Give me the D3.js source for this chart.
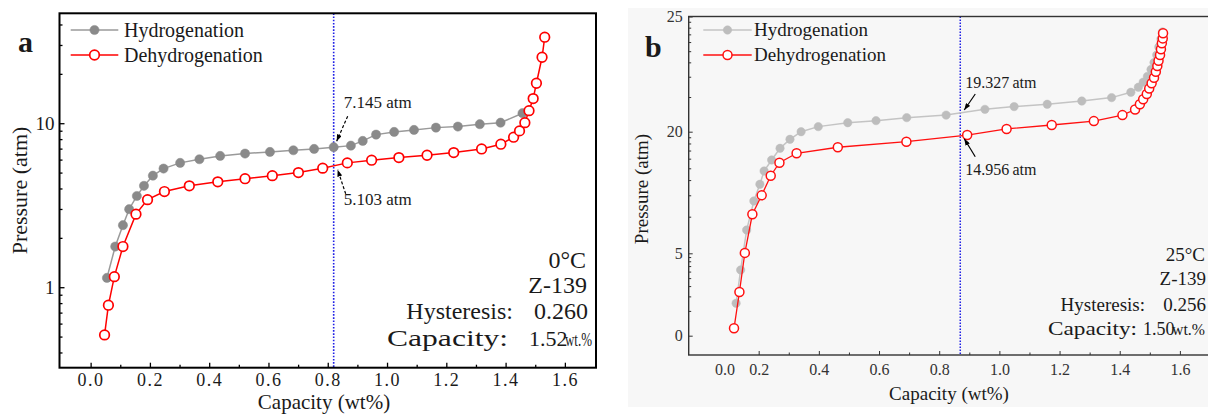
<!DOCTYPE html>
<html>
<head>
<meta charset="utf-8">
<script src="https://cdn.jsdelivr.net/npm/d3@7"></script>
<style>
  body { margin: 0; background: #fff; }
  svg { display: block; }
  svg text { font-family: "Liberation Serif", "DejaVu Serif", "Times New Roman", serif; fill: #1a1a1a; }
</style>
</head>
<body>
<svg id="chart" width="1208" height="415" font-family="Liberation Serif, DejaVu Serif, serif"></svg>
<script>
// ---------- Panel a: 0 °C (log pressure axis) ----------
const capHydA  = [0.055,0.083,0.109,0.130,0.156,0.180,0.210,0.246,0.302,0.367,0.437,0.521,0.605,0.684,0.754,0.820,0.878,0.918,0.963,1.024,1.091,1.165,1.239,1.313,1.383,1.457];
const presHydA = [1.14,1.77,2.39,2.99,3.60,4.15,4.79,5.29,5.73,6.03,6.32,6.53,6.68,6.84,6.97,7.145,7.30,7.80,8.52,8.85,9.10,9.40,9.54,9.86,10.08,11.51];
const capDehA  = [0.047,0.060,0.080,0.109,0.153,0.192,0.249,0.333,0.429,0.521,0.613,0.701,0.783,0.866,0.948,1.040,1.135,1.225,1.319,1.384,1.427,1.447,1.465,1.479,1.493,1.504,1.523,1.532];
const presDehA = [0.512,0.777,1.16,1.77,2.79,3.42,3.83,4.15,4.39,4.59,4.79,5.00,5.32,5.73,5.95,6.17,6.38,6.62,6.97,7.45,8.22,8.98,10.08,11.93,14.13,17.53,25.25,33.45];
const xTicksA = [0,0.2,0.4,0.6,0.8,1.0,1.2,1.4,1.6];
const xMinorA = [0.1,0.3,0.5,0.7,0.9,1.1,1.3,1.5];
const yTicksA = [1,10];
const yMinorA = [0.4,0.5,0.6,0.7,0.8,0.9,2,3,4,5,6,7,8,9,20,30,40];
const markCapA = 0.82, markHydA = 7.145, markDehA = 5.103;
const infoA = { temp: "0°C", sample: "Z-139", hyst: "0.260", cap: "1.52" };

// ---------- Panel b: 25 °C ----------
const capHydB  = [0.125,0.140,0.160,0.184,0.204,0.218,0.243,0.271,0.304,0.341,0.398,0.496,0.590,0.692,0.823,0.952,1.049,1.159,1.274,1.373,1.437,1.462,1.478,1.492,1.504,1.514,1.523,1.530,1.537,1.542];
const presHydB = [1.97,3.99,7.87,11.45,13.51,15.15,16.51,17.95,19.06,20.00,20.22,20.39,20.48,20.61,20.72,20.97,21.09,21.19,21.33,21.48,21.71,21.93,22.15,22.40,22.70,23.00,23.33,23.68,24.02,24.33];
const capDehB  = [0.118,0.136,0.154,0.179,0.210,0.240,0.269,0.326,0.463,0.691,0.893,1.024,1.174,1.314,1.409,1.451,1.467,1.478,1.490,1.498,1.506,1.514,1.520,1.525,1.529,1.534,1.537,1.540,1.543,1.544];
const presDehB = [0.45,2.65,5.05,9.81,12.15,14.57,16.18,17.34,18.08,18.77,19.59,20.12,20.29,20.46,20.72,20.96,21.19,21.41,21.64,21.87,22.10,22.34,22.60,22.85,23.08,23.33,23.58,23.84,24.05,24.27];
const xTicksB = [0,0.2,0.4,0.6,0.8,1.0,1.2,1.4,1.6];
const xMinorB = [0.3,0.5,0.7,0.9,1.1,1.3,1.5];
const yTicksB = [0,5,20,25];
const markCapB = 0.87, markHydB = 19.327, markDehB = 14.956;
const infoB = { temp: "25°C", sample: "Z-139", hyst: "0.256", cap: "1.50" };

const SERIF = "Liberation Serif, DejaVu Serif, serif";
const svg = d3.select("#chart");

// arrowhead
svg.append("defs").append("marker")
  .attr("id", "head").attr("viewBox", "0 0 8 6").attr("refX", 8).attr("refY", 3)
  .attr("markerWidth", 7).attr("markerHeight", 5).attr("markerUnits", "userSpaceOnUse")
  .attr("orient", "auto")
  .append("path").attr("d", "M0,0 L8,3 L0,6 Z").attr("fill", "#000");

function drawSeries(g, xs, ys, x, y, st) {
  const pts = xs.map((v, i) => [v, ys[i]]);
  g.append("path").datum(pts)
    .attr("d", d3.line().x(d => x(d[0])).y(d => y(d[1])))
    .attr("fill", "none").attr("stroke", st.line).attr("stroke-width", st.lw);
  g.selectAll(null).data(pts).join("circle")
    .attr("cx", d => x(d[0])).attr("cy", d => y(d[1])).attr("r", st.r)
    .attr("fill", st.fill).attr("stroke", st.stroke).attr("stroke-width", st.sw);
}

// screen-space y of a polyline at a given x value
function yOnCurve(xs, ys, xv, x, y) {
  for (let i = 0; i < xs.length - 1; i++) {
    if (xs[i] <= xv && xv <= xs[i + 1]) {
      const t = (x(xv) - x(xs[i])) / (x(xs[i + 1]) - x(xs[i]));
      return y(ys[i]) + t * (y(ys[i + 1]) - y(ys[i]));
    }
  }
  return y(ys[0]);
}

function legend(g, x0, y0, gap, len, textX, fs, hydSt, dehSt) {
  [[hydSt, "Hydrogenation"], [dehSt, "Dehydrogenation"]].forEach(([st, label], i) => {
    const yy = y0 + i * gap;
    g.append("line").attr("x1", x0).attr("x2", x0 + len).attr("y1", yy).attr("y2", yy)
      .attr("stroke", st.line).attr("stroke-width", st.lw);
    g.append("circle").attr("cx", x0 + len / 2).attr("cy", yy).attr("r", st.r)
      .attr("fill", st.fill).attr("stroke", st.stroke).attr("stroke-width", st.sw);
    g.append("text").attr("x", textX).attr("y", yy + fs * 0.33).attr("font-size", fs).text(label);
  });
}

// ================= Panel a =================
{
  const L = 59.5, R = 596, T = 13.3, B = 367.7;
  const x = d3.scaleLinear().domain([-0.105, 1.705]).range([L, R]);
  const y = d3.scaleLog().domain([0.323, 46.8]).range([B, T]);
  const g = svg.append("g");

  const hydSt = { line: "#9a9a9a", lw: 1.5, r: 4.6, fill: "#8a8a8a", stroke: "#8a8a8a", sw: 0.5 };
  const dehSt = { line: "#ff0000", lw: 1.5, r: 4.8, fill: "#fff", stroke: "#ff0000", sw: 1.7 };

  // axes with inward ticks
  const ax = g.append("g").attr("transform", `translate(0,${B})`)
    .call(d3.axisBottom(x).tickValues(xTicksA).tickFormat(d3.format(".1f")).tickSizeInner(-5).tickSizeOuter(0).tickPadding(6));
  ax.selectAll("text").attr("font-size", 18).attr("letter-spacing", 1.5);
  g.append("g").attr("transform", `translate(0,${B})`)
    .call(d3.axisBottom(x).tickValues(xMinorA).tickFormat("").tickSizeInner(-3).tickSizeOuter(0));
  const ay = g.append("g").attr("transform", `translate(${L},0)`)
    .call(d3.axisLeft(y).tickValues(yTicksA).tickFormat(d3.format("d")).tickSizeInner(-5).tickSizeOuter(0).tickPadding(5));
  ay.selectAll("text").attr("font-size", 19);
  g.append("g").attr("transform", `translate(${L},0)`)
    .call(d3.axisLeft(y).tickValues(yMinorA).tickFormat("").tickSizeInner(-3).tickSizeOuter(0));
  g.selectAll(".domain").remove();
  g.selectAll(".tick line").attr("stroke", "#000").attr("stroke-width", 1.3);
  g.selectAll("g").attr("font-family", SERIF);

  // vertical marker line
  g.append("line").attr("x1", x(markCapA)).attr("x2", x(markCapA)).attr("y1", T).attr("y2", B)
    .attr("stroke", "#1f1fe6").attr("stroke-width", 1.6).attr("stroke-dasharray", "1.6,1.6");

  drawSeries(g, capHydA, presHydA, x, y, hydSt);
  drawSeries(g, capDehA, presDehA, x, y, dehSt);

  // frame
  g.append("rect").attr("x", L).attr("y", T).attr("width", R - L).attr("height", B - T)
    .attr("fill", "none").attr("stroke", "#000").attr("stroke-width", 2);

  // annotations
  const xm = x(markCapA);
  const yH = y(markHydA), yD = yOnCurve(capDehA, presDehA, markCapA, x, y);
  g.append("line").attr("x1", xm + 14).attr("y1", yH - 31).attr("x2", xm + 3).attr("y2", yH - 6)
    .attr("stroke", "#000").attr("stroke-width", 1.2).attr("stroke-dasharray", "3,2").attr("marker-end", "url(#head)");
  g.append("line").attr("x1", xm + 12).attr("y1", yD + 28).attr("x2", xm + 4).attr("y2", yD + 4)
    .attr("stroke", "#000").attr("stroke-width", 1.2).attr("stroke-dasharray", "3,2").attr("marker-end", "url(#head)");
  g.append("text").attr("x", xm + 10).attr("y", yH - 39).attr("font-size", 17).text(`${markHydA} atm`);
  g.append("text").attr("x", xm + 10).attr("y", yD + 39).attr("font-size", 17).text(`${markDehA} atm`);

  legend(g, 70.7, 30, 25, 47.6, 124, 20, hydSt, dehSt);

  g.append("text").attr("x", 18).attr("y", 52).attr("font-size", 30).attr("font-weight", "bold").text("a");

  g.append("text").attr("transform", `translate(27,${(T + B) / 2}) rotate(-90)`)
    .attr("text-anchor", "middle").attr("font-size", 22).text("Pressure (atm)");
  g.append("text").attr("x", 324).attr("y", 409).attr("text-anchor", "middle")
    .attr("font-size", 21).text("Capacity (wt%)");

  // condition block
  g.append("text").attr("x", 586).attr("y", 268).attr("text-anchor", "end").attr("font-size", 24).text(infoA.temp);
  g.append("text").attr("x", 587).attr("y", 293).attr("text-anchor", "end").attr("font-size", 24).text(infoA.sample);
  g.append("text").attr("x", 513).attr("y", 319).attr("text-anchor", "end").attr("font-size", 24).text("Hysteresis:");
  g.append("text").attr("x", 588).attr("y", 319).attr("text-anchor", "end").attr("font-size", 24).text(infoA.hyst);
  g.append("text").attr("x", 387).attr("y", 346).attr("font-size", 24)
    .attr("textLength", 121).attr("lengthAdjust", "spacingAndGlyphs").text("Capacity:");
  g.append("text").attr("x", 529).attr("y", 346).attr("font-size", 22).text(infoA.cap);
  g.append("text").attr("x", 565).attr("y", 346).attr("font-size", 19)
    .attr("textLength", 27).attr("lengthAdjust", "spacingAndGlyphs").text("wt.%");
}

// ================= Panel b =================
{
  const L = 688.7, R = 1216, T = 16.5, B = 355;
  const x = d3.scaleLinear().domain([-0.0326, 1.72]).range([L, R]);
  const y = d3.scaleLinear().domain([-1.17, 0, 5, 20, 25]).range([B, 335.7, 253.3, 131.7, T]);
  const g = svg.append("g");

  g.append("rect").attr("x", 628).attr("y", 8).attr("width", 580).attr("height", 399).attr("fill", "#f7f7f7");

  const hydSt = { line: "#c4c4c4", lw: 1.5, r: 4.2, fill: "#bdbdbd", stroke: "#bdbdbd", sw: 0.5 };
  const dehSt = { line: "#ff1010", lw: 1.3, r: 4.5, fill: "#fff", stroke: "#ff1010", sw: 1.5 };

  // log-style minor ticks within each labelled segment
  const segs = d3.pairs(yTicksB);
  const yMinorB = segs.flatMap(([a, b]) => d3.range(2, 10).map(k => a + (b - a) * Math.log10(k)));

  const ax = g.append("g").attr("transform", `translate(0,${B})`)
    .call(d3.axisBottom(x).tickValues(xTicksB).tickFormat(d3.format(".1f")).tickSizeInner(-4).tickSizeOuter(0).tickPadding(9));
  ax.selectAll("text").attr("font-size", 16).style("fill", "#333");
  ax.selectAll(".tick").filter(d => d === 0).select("line").remove();
  ax.selectAll(".tick").filter(d => d === 0).select("text").attr("dx", 26);
  g.append("g").attr("transform", `translate(0,${B})`)
    .call(d3.axisBottom(x).tickValues(xMinorB).tickFormat("").tickSizeInner(-2.5).tickSizeOuter(0));
  const ay = g.append("g").attr("transform", `translate(${L},0)`)
    .call(d3.axisLeft(y).tickValues(yTicksB).tickFormat(d3.format("d")).tickSizeInner(-4).tickSizeOuter(0).tickPadding(6));
  ay.selectAll("text").attr("font-size", 16).style("fill", "#333");
  g.append("g").attr("transform", `translate(${L},0)`)
    .call(d3.axisLeft(y).tickValues(yMinorB).tickFormat("").tickSizeInner(-2.5).tickSizeOuter(0));
  g.selectAll(".domain").remove();
  g.selectAll(".tick line").attr("stroke", "#333").attr("stroke-width", 1);
  g.selectAll("g").attr("font-family", SERIF);

  g.append("line").attr("x1", x(markCapB)).attr("x2", x(markCapB)).attr("y1", T).attr("y2", B)
    .attr("stroke", "#1f1fe6").attr("stroke-width", 1.5).attr("stroke-dasharray", "1.5,1.5");

  drawSeries(g, capHydB, presHydB, x, y, hydSt);
  drawSeries(g, capDehB, presDehB, x, y, dehSt);

  g.append("rect").attr("x", L).attr("y", T).attr("width", R - L).attr("height", B - T)
    .attr("fill", "none").attr("stroke", "#333").attr("stroke-width", 1.4);

  const xm = x(markCapB);
  const yH = yOnCurve(capHydB, presHydB, markCapB, x, y);
  const yD = yOnCurve(capDehB, presDehB, markCapB, x, y);
  g.append("line").attr("x1", xm + 15).attr("y1", yH - 19).attr("x2", xm + 4).attr("y2", yH - 3)
    .attr("stroke", "#000").attr("stroke-width", 1.2).attr("marker-end", "url(#head)");
  g.append("line").attr("x1", xm + 15).attr("y1", yD + 21).attr("x2", xm + 4).attr("y2", yD + 3)
    .attr("stroke", "#000").attr("stroke-width", 1.2).attr("marker-end", "url(#head)");
  g.append("text").attr("x", xm + 5).attr("y", yH - 25).attr("font-size", 16).text(`${markHydB}\u2009atm`);
  g.append("text").attr("x", xm + 5).attr("y", yD + 39).attr("font-size", 16).text(`${markDehB}\u2009atm`);

  legend(g, 703.3, 30, 25, 48.4, 754, 19, hydSt, dehSt);

  g.append("text").attr("x", 645).attr("y", 57).attr("font-size", 30).attr("font-weight", "bold").text("b");

  g.append("text").attr("transform", `translate(648,189) rotate(-90)`)
    .attr("text-anchor", "middle").attr("font-size", 19).text("Pressure (atm)");
  g.append("text").attr("x", 949).attr("y", 400).attr("text-anchor", "middle")
    .attr("font-size", 19).text("Capacity (wt%)");

  g.append("text").attr("x", 1205).attr("y", 261).attr("text-anchor", "end").attr("font-size", 19).text(infoB.temp);
  g.append("text").attr("x", 1206).attr("y", 285).attr("text-anchor", "end").attr("font-size", 19).text(infoB.sample);
  g.append("text").attr("x", 1145).attr("y", 311).attr("text-anchor", "end").attr("font-size", 19).text("Hysteresis:");
  g.append("text").attr("x", 1206).attr("y", 311).attr("text-anchor", "end").attr("font-size", 19).text(infoB.hyst);
  g.append("text").attr("x", 1048).attr("y", 335).attr("font-size", 19)
    .attr("textLength", 89).attr("lengthAdjust", "spacingAndGlyphs").text("Capacity:");
  g.append("text").attr("x", 1143).attr("y", 335).attr("font-size", 18).text(infoB.cap);
  g.append("text").attr("x", 1172).attr("y", 335).attr("font-size", 17)
    .attr("textLength", 33).attr("lengthAdjust", "spacingAndGlyphs").text("wt.%");
}
</script>
</body>
</html>
